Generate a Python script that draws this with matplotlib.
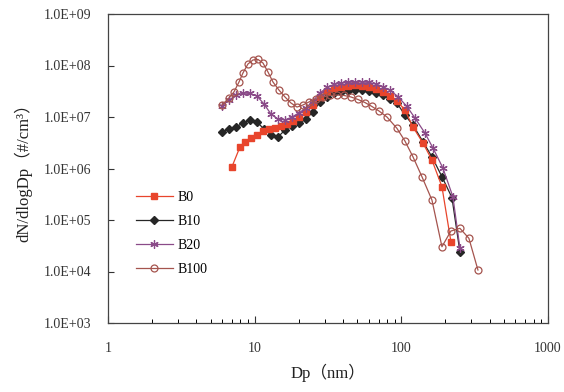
import matplotlib
matplotlib.use("Agg")
import matplotlib.pyplot as plt
from matplotlib.ticker import FixedLocator, LogLocator, NullFormatter

# ---- data ----
b0_x = [7.0, 7.94, 8.59, 9.44, 10.37, 11.39, 12.52, 13.75, 15.11, 16.61, 18.24, 20.04,
        22.37, 24.97, 27.87, 31.1, 34.72, 38.75, 43.25, 48.28, 53.88, 60.13, 67.13,
        74.92, 83.6, 93.3, 105.8, 120.0, 140.4, 161.7, 189.2, 217.8]
b0_y = [1.08e6, 2.62e6, 3.34e6, 3.91e6, 4.47e6, 5.23e6, 5.72e6, 6.11e6, 6.54e6, 7.31e6,
        8.36e6, 1.0e7, 1.25e7, 1.71e7, 2.45e7, 3.2e7, 3.6e7, 3.82e7, 4.0e7, 4.09e7,
        4.0e7, 3.82e7, 3.5e7, 3.06e7, 2.56e7, 2.05e7, 1.37e7, 6.4e6, 3.13e6, 1.46e6,
        4.43e5, 3.79e4]

b10_x = [5.98, 6.68, 7.46, 8.32, 9.29, 10.37, 11.57, 12.92, 14.42, 16.09, 17.96, 20.04,
         22.37, 24.97, 27.87, 31.1, 34.72, 38.75, 43.25, 48.28, 53.88, 60.13, 67.13,
         74.92, 83.6, 93.3, 105.8, 120.0, 140.4, 161.7, 189.2, 221.3, 250.8]
b10_y = [5.18e6, 5.72e6, 6.4e6, 7.65e6, 8.74e6, 8.0e6, 5.85e6, 4.47e6, 4.09e6, 5.59e6,
         6.69e6, 7.48e6, 9.15e6, 1.25e7, 1.96e7, 2.5e7, 2.86e7, 3.06e7, 3.24e7, 3.31e7,
         3.34e7, 3.27e7, 2.99e7, 2.62e7, 2.24e7, 1.87e7, 1.09e7, 7.0e6, 3.31e6, 1.69e6,
         6.93e5, 2.73e5, 2.42e4]

b20_x = [5.98, 6.68, 7.46, 8.32, 9.29, 10.37, 11.57, 12.92, 14.42, 16.09, 17.96, 20.04,
         22.37, 24.97, 27.87, 31.1, 34.72, 38.75, 43.25, 48.28, 53.88, 60.13, 67.13,
         74.92, 83.6, 94.8, 109.2, 123.8, 144.8, 164.3, 192.1, 224.7, 250.8]
b20_y = [1.64e7, 2.14e7, 2.62e7, 2.92e7, 2.86e7, 2.56e7, 1.79e7, 1.14e7, 9.15e6, 8.74e6,
         1.0e7, 1.2e7, 1.5e7, 2.05e7, 2.92e7, 3.74e7, 4.28e7, 4.57e7, 4.68e7, 4.78e7,
         4.78e7, 4.68e7, 4.37e7, 3.9e7, 3.3e7, 2.5e7, 1.6e7, 9.56e6, 4.89e6, 2.5e6,
         1.02e6, 2.83e5, 2.86e4]

b100_x = [5.98, 6.68, 7.22, 7.82, 8.32, 9.0, 9.74, 10.53, 11.39, 12.32, 13.33, 14.64,
          16.09, 17.68, 19.43, 21.34, 23.45, 26.17, 29.22, 32.62, 36.39, 40.62, 45.34,
          50.6, 56.48, 63.03, 70.36, 79.78, 93.3, 105.8, 120.0, 138.2, 161.7, 189.2,
          217.8, 250.8, 288.9, 332.9]
b100_y = [1.71e7, 2.34e7, 3.06e7, 4.78e7, 7.15e7, 1.07e8, 1.28e8, 1.31e8, 1.12e8, 7.48e7,
          4.78e7, 3.34e7, 2.45e7, 1.87e7, 1.56e7, 1.71e7, 1.96e7, 2.24e7, 2.45e7, 2.62e7,
          2.67e7, 2.62e7, 2.45e7, 2.19e7, 1.91e7, 1.6e7, 1.31e7, 1.0e7, 6.03e6, 3.42e6,
          1.69e6, 6.93e5, 2.44e5, 3.03e4, 6.11e4, 6.9e4, 4.41e4, 1.07e4]

series_labels = ["B0", "B10", "B20", "B100"]
x_ticks = [1, 10, 100, 1000]
x_tick_labels = ["1", "10", "100", "1000"]
y_ticks = [1e3, 1e4, 1e5, 1e6, 1e7, 1e8, 1e9]
y_tick_labels = ["1.0E+03", "1.0E+04", "1.0E+05", "1.0E+06", "1.0E+07", "1.0E+08", "1.0E+09"]

SERIF = ["Liberation Serif", "Noto Sans CJK SC", "DejaVu Sans"]
plt.rcParams["font.family"] = SERIF

fig = plt.figure(figsize=(5.64, 3.92), dpi=100)
ax = fig.add_axes([108 / 564, 1 - 323 / 392, 440 / 564, 309 / 392])

c_b0 = "#e8452c"
c_b10 = "#262626"
c_b20 = "#8a4a88"
c_b100 = "#a5544e"

ax.plot(b0_x, b0_y, color=c_b0, lw=0.9, marker="s", ms=4.5, mfc=c_b0, mec=c_b0,
        label=series_labels[0], zorder=3)
ax.plot(b10_x, b10_y, color=c_b10, lw=0.9, marker="D", ms=4, mfc=c_b10, mec=c_b10,
        label=series_labels[1], zorder=2)
ax.plot(b20_x, b20_y, color=c_b20, lw=0.9, marker=(6, 2, 0), ms=6, mfc=c_b20, mec=c_b20,
        mew=0.9, label=series_labels[2], zorder=4)
ax.plot(b100_x, b100_y, color=c_b100, lw=0.9, marker="o", ms=5, mfc="none", mec=c_b100,
        mew=0.9, label=series_labels[3], zorder=5)

ax.set_xscale("log")
ax.set_yscale("log")
ax.set_xlim(1, 1000)
ax.set_ylim(1e3, 1e9)

ax.xaxis.set_major_locator(FixedLocator(x_ticks))
ax.set_xticklabels(x_tick_labels)
ax.xaxis.set_minor_locator(LogLocator(base=10, subs=range(2, 10)))
ax.xaxis.set_minor_formatter(NullFormatter())
ax.yaxis.set_major_locator(FixedLocator(y_ticks))
ax.set_yticklabels(y_tick_labels)
ax.yaxis.set_minor_locator(FixedLocator([]))

ax.tick_params(axis="x", which="major", direction="in", length=5, width=0.8, pad=14,
               labelsize=10, colors="#333333")
ax.tick_params(axis="x", which="minor", direction="in", length=3, width=0.7)
ax.tick_params(axis="y", which="major", direction="in", length=4, width=0.8, pad=12,
               labelsize=10, colors="#333333")
for sp in ax.spines.values():
    sp.set_linewidth(0.9)
    sp.set_color("#444444")

ax.set_xlabel("Dp（nm）", fontsize=12, family=SERIF, labelpad=6, color="#222222")
ax.set_ylabel("dN/dlogDp（#/cm³）", fontsize=12, family=SERIF, labelpad=8, color="#222222")

leg = ax.legend(loc="upper left", bbox_to_anchor=(126 / 564, 1 - 181 / 392),
                bbox_transform=fig.transFigure, frameon=False, fontsize=10,
                handlelength=2.7, handletextpad=0.3, labelspacing=0.8, borderpad=0.2)

fig.savefig("out.png", dpi=100)
